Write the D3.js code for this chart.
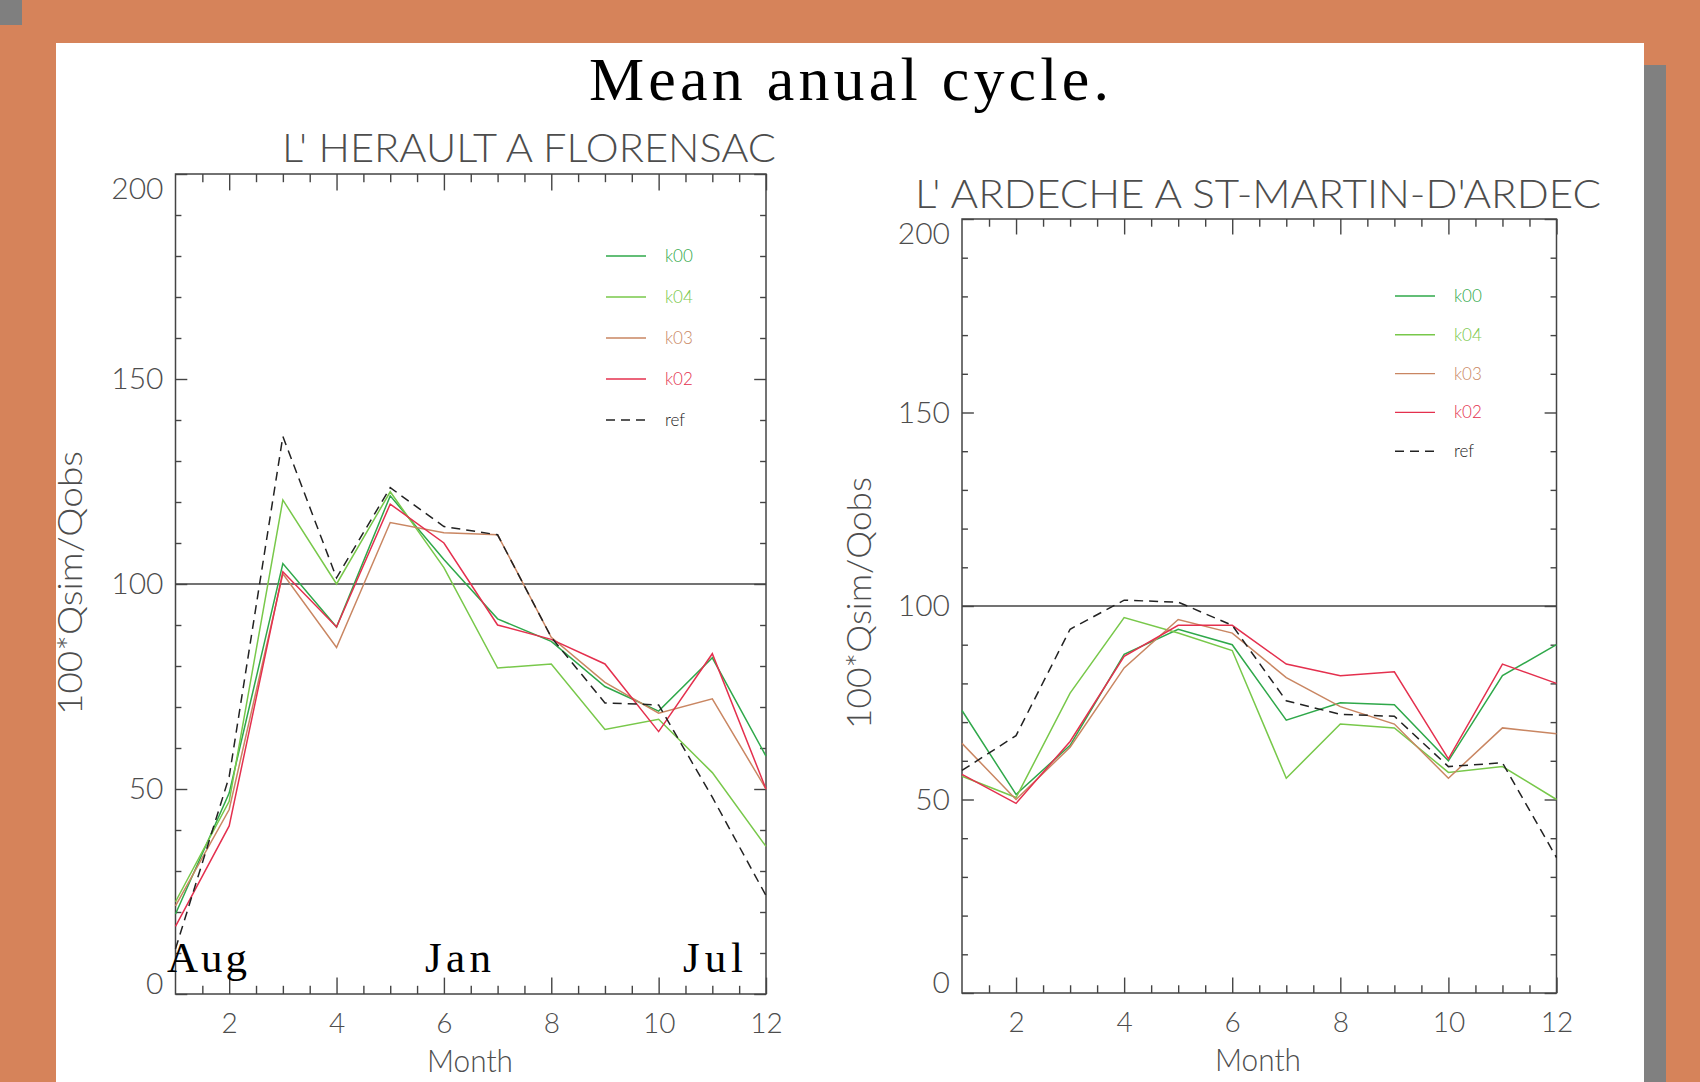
<!DOCTYPE html>
<html>
<head>
<meta charset="utf-8">
<script src="https://cdn.jsdelivr.net/npm/d3@7"></script>
<style>
  html, body { margin: 0; padding: 0; background: #d6835a; }
  svg { display: block; }
</style>
</head>
<body>
<svg id="chart" width="1700" height="1082"></svg>
<script>
// Months of the hydrological year (Aug = 1 ... Jul = 12)
const months = [1, 2, 3, 4, 5, 6, 7, 8, 9, 10, 11, 12];
const seriesNames = ["k00", "k04", "k03", "k02", "ref"];
const xTickValues = [2, 4, 6, 8, 10, 12];
const yTickValues = [0, 50, 100, 150, 200];
const seasonLabels = ["Aug", "Jan", "Jul"];
const titleMain = "Mean anual cycle.";
const stationNames = ["L' HERAULT A FLORENSAC", "L' ARDECHE A ST-MARTIN-D'ARDEC"];

// 100*Qsim/Qobs, L'Herault a Florensac
const heraultK00 = [19.5, 49, 105, 89.5, 121.5, 106, 91.5, 86, 75, 69, 82, 58];
const heraultK04 = [22.5, 47, 120.5, 100, 122.5, 104, 79.5, 80.5, 64.5, 67, 54, 36];
const heraultK03 = [21.5, 45, 102.5, 84.5, 115, 112.5, 112, 87, 76, 68.5, 72, 50];
const heraultK02 = [16.5, 41, 103, 89.5, 119.5, 110, 90, 86.5, 80.5, 64, 83, 50];
const heraultRef = [11, 53, 136, 101.5, 123.5, 114, 112, 87, 71, 70.5, 48, 24];

// 100*Qsim/Qobs, L'Ardeche a St-Martin-d'Ardeche
const ardecheK00 = [73, 51.3, 64, 87.5, 94, 90, 70.5, 75, 74.5, 60, 82, 90];
const ardecheK04 = [56, 50.5, 77.5, 97, 93, 88.5, 55.5, 69.5, 68.5, 57, 58.5, 50];
const ardecheK03 = [64.5, 50, 63.5, 84, 96.5, 93, 81.5, 74, 69.5, 55.5, 68.5, 67];
const ardecheK02 = [56.5, 49, 65, 87, 95, 95, 85, 82, 83, 60.5, 85, 80];
const ardecheRef = [57.5, 66.5, 94, 101.5, 101, 95, 75.5, 72, 71.5, 58.5, 59.5, 35];

// line styles per series
const seriesColors = ["#2fa84a", "#78c84a", "#c98662", "#e4304e", "#222222"];
const seriesDash = [null, null, null, null, "9,6"];

const svg = d3.select("#chart");
const SANS = "Lato, 'DejaVu Sans', sans-serif";
const SERIF = "'Liberation Serif', 'Times New Roman', serif";
const INK = "#4d4d4d";

// slide backdrop
svg.append("rect").attr("x", 0).attr("y", 0).attr("width", 1700).attr("height", 1082).attr("fill", "#d6835a");
svg.append("rect").attr("x", 0).attr("y", 0).attr("width", 22).attr("height", 25).attr("fill", "#7f7f7f");
svg.append("rect").attr("x", 1644).attr("y", 65).attr("width", 22).attr("height", 1017).attr("fill", "#808080");
svg.append("rect").attr("x", 56).attr("y", 43).attr("width", 1588).attr("height", 1039).attr("fill", "#ffffff");

svg.append("text")
  .attr("x", 589).attr("y", 100)
  .attr("textLength", 520).attr("lengthAdjust", "spacing")
  .attr("font-family", SERIF).attr("font-size", 62).attr("fill", "#000")
  .text(titleMain);

const panels = [
  {
    name: stationNames[0],
    series: [heraultK00, heraultK04, heraultK03, heraultK02, heraultRef],
    x0: 175.5, x1: 766, y0: 174, y1: 994,
    title: { x: 282, y: 162, len: 494 },
    ytitle: { x: 82, y: 583, len: 264 },
    xtitle: { x: 470, y: 1072, len: 86 },
    legend: { x: 606, tx: 665, y: 256, dy: 41 },
    seasons: [{ x: 167, len: 80 }, { x: 425, len: 66 }, { x: 683, len: 60 }]
  },
  {
    name: stationNames[1],
    series: [ardecheK00, ardecheK04, ardecheK03, ardecheK02, ardecheRef],
    x0: 962, x1: 1556.5, y0: 219, y1: 993,
    title: { x: 915, y: 208, len: 686 },
    ytitle: { x: 871, y: 603, len: 252 },
    xtitle: { x: 1258, y: 1071, len: 86 },
    legend: { x: 1395, tx: 1454, y: 296, dy: 38.8 },
    seasons: null
  }
];

function styleAxis(g, size) {
  g.select(".domain").remove();
  g.selectAll("line").attr("stroke", "#444").attr("stroke-width", 1.4);
  g.selectAll("text")
    .attr("fill", INK)
    .attr("font-family", SANS)
    .attr("font-weight", 300)
    .attr("font-size", size);
}

panels.forEach(p => {
  const g = svg.append("g");
  const x = d3.scaleLinear().domain([1, 12]).range([p.x0, p.x1]);
  const y = d3.scaleLinear().domain([0, 200]).range([p.y1, p.y0]);
  const xLen = 0.02 * (p.y1 - p.y0);
  const yLen = 0.02 * (p.x1 - p.x0);
  const xMinor = d3.range(1.5, 12, 0.5).filter(v => v % 2 !== 0);
  const yMinor = d3.range(10, 200, 10).filter(v => v % 50 !== 0);

  // bottom axis
  g.append("g").attr("transform", `translate(0,${p.y1})`)
    .call(d3.axisBottom(x).tickValues(xMinor).tickSize(-xLen / 2).tickFormat(""))
    .call(s => styleAxis(s, 28));
  g.append("g").attr("transform", `translate(0,${p.y1})`)
    .call(d3.axisBottom(x).tickValues(xTickValues).tickSize(-xLen).tickPadding(19).tickFormat(d3.format("d")))
    .call(s => styleAxis(s, 28));
  // top axis
  g.append("g").attr("transform", `translate(0,${p.y0})`)
    .call(d3.axisTop(x).tickValues(xMinor).tickSize(-xLen / 2).tickFormat(""))
    .call(s => styleAxis(s, 28));
  g.append("g").attr("transform", `translate(0,${p.y0})`)
    .call(d3.axisTop(x).tickValues(xTickValues).tickSize(-xLen).tickFormat(""))
    .call(s => styleAxis(s, 28));
  // left axis
  g.append("g").attr("transform", `translate(${p.x0},0)`)
    .call(d3.axisLeft(y).tickValues(yMinor).tickSize(-yLen / 2).tickFormat(""))
    .call(s => styleAxis(s, 30));
  const yAx = g.append("g").attr("transform", `translate(${p.x0},0)`)
    .call(d3.axisLeft(y).tickValues(yTickValues).tickSize(-yLen).tickPadding(12).tickFormat(d3.format("d")))
    .call(s => styleAxis(s, 30));
  // end labels are kept inside the axis range
  yAx.selectAll(".tick").filter(d => d === 200).select("text").attr("y", 15);
  yAx.selectAll(".tick").filter(d => d === 0).select("text").attr("y", -10);
  // right axis
  g.append("g").attr("transform", `translate(${p.x1},0)`)
    .call(d3.axisRight(y).tickValues(yMinor).tickSize(-yLen / 2).tickFormat(""))
    .call(s => styleAxis(s, 30));
  g.append("g").attr("transform", `translate(${p.x1},0)`)
    .call(d3.axisRight(y).tickValues(yTickValues).tickSize(-yLen).tickFormat(""))
    .call(s => styleAxis(s, 30));

  // plot frame
  g.append("rect")
    .attr("x", p.x0).attr("y", p.y0)
    .attr("width", p.x1 - p.x0).attr("height", p.y1 - p.y0)
    .attr("fill", "none").attr("stroke", "#444").attr("stroke-width", 1.5);

  // 100 % reference line
  g.append("line")
    .attr("x1", x(1)).attr("x2", x(12))
    .attr("y1", y(100)).attr("y2", y(100))
    .attr("stroke", "#444").attr("stroke-width", 1.5);

  // series
  const line = d3.line().x((d, i) => x(months[i])).y(d => y(d));
  p.series.forEach((vals, k) => {
    g.append("path")
      .datum(vals)
      .attr("d", line)
      .attr("fill", "none")
      .attr("stroke", seriesColors[k])
      .attr("stroke-width", 1.5)
      .attr("stroke-dasharray", seriesDash[k]);
  });

  // legend
  seriesNames.forEach((name, k) => {
    const ly = p.legend.y + k * p.legend.dy;
    g.append("line")
      .attr("x1", p.legend.x).attr("x2", p.legend.x + 40)
      .attr("y1", ly).attr("y2", ly)
      .attr("stroke", seriesColors[k]).attr("stroke-width", 1.4)
      .attr("stroke-dasharray", seriesDash[k]);
    g.append("text")
      .attr("x", p.legend.tx).attr("y", ly + 6)
      .attr("font-family", SANS).attr("font-weight", 300).attr("font-size", 17)
      .attr("fill", seriesColors[k])
      .text(name);
  });

  // station title
  g.append("text")
    .attr("x", p.title.x).attr("y", p.title.y)
    .attr("textLength", p.title.len).attr("lengthAdjust", "spacingAndGlyphs")
    .attr("font-family", SANS).attr("font-weight", 300).attr("font-size", 39)
    .attr("fill", INK)
    .text(p.name);

  // axis titles
  g.append("text")
    .attr("transform", `translate(${p.ytitle.x},${p.ytitle.y}) rotate(-90)`)
    .attr("text-anchor", "middle")
    .attr("textLength", p.ytitle.len).attr("lengthAdjust", "spacingAndGlyphs")
    .attr("font-family", SANS).attr("font-weight", 300).attr("font-size", 34)
    .attr("fill", INK)
    .text("100*Qsim/Qobs");
  g.append("text")
    .attr("x", p.xtitle.x).attr("y", p.xtitle.y)
    .attr("text-anchor", "middle")
    .attr("textLength", p.xtitle.len).attr("lengthAdjust", "spacingAndGlyphs")
    .attr("font-family", SANS).attr("font-weight", 300).attr("font-size", 31)
    .attr("fill", INK)
    .text("Month");

  // season markers
  if (p.seasons) {
    p.seasons.forEach((s, k) => {
      g.append("text")
        .attr("x", s.x).attr("y", 972)
        .attr("textLength", s.len).attr("lengthAdjust", "spacing")
        .attr("font-family", SERIF).attr("font-size", 43).attr("fill", "#000")
        .text(seasonLabels[k]);
    });
  }
});
</script>
</body>
</html>
